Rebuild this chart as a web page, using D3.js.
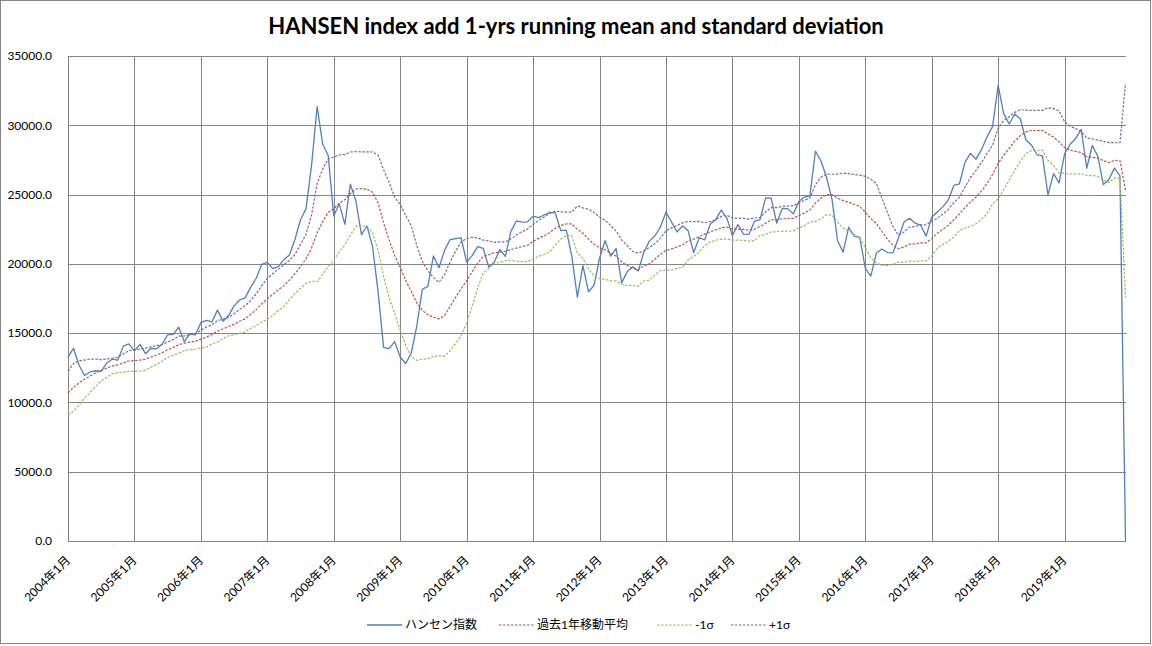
<!DOCTYPE html>
<html>
<head>
<meta charset="utf-8">
<script src="https://cdn.jsdelivr.net/npm/d3@7"></script>
<style>
  body { margin: 0; background: #fff; }
  svg { display: block; }
</style>
</head>
<body>
<div id="chart"></div>
<script>
// Hang Seng monthly close, 2004-01 .. 2019-12 (last month empty -> 0)
const hsi = [
  13289,13907,12682,11943,12198,12286,12238,12850,13120,13055,14060,14230,
  13722,14195,13517,13909,13867,14201,14881,14904,15429,14386,14937,14876,
  15753,15918,15805,16661,15858,16268,16971,17392,17543,18324,18960,19965,
  20106,19652,19801,20319,20634,21773,23185,23984,27142,31353,28644,27813,
  23456,24332,22849,25755,24533,22102,22731,21262,18016,13969,13888,14387,
  13278,12812,13576,15521,18171,18379,20573,19724,20955,21753,21822,21873,
  20122,20609,21239,21109,19765,20129,21030,20536,22358,23096,23008,23035,
  23447,23338,23528,23721,23684,22398,22440,20535,17592,19865,17989,18434,
  20390,21680,20556,21094,18630,19441,19797,19483,20840,21642,22030,22657,
  23730,23020,22300,22737,22392,20803,21884,21731,22860,23206,23881,23306,
  22035,22837,22151,22134,23082,23191,24757,24742,22933,23998,23987,23605,
  24507,24823,24901,28133,27424,26250,24636,21671,20846,22640,21996,21914,
  19683,19112,20777,21067,20815,20794,21891,23023,23297,22935,22790,22001,
  23361,23741,24112,24615,25661,25765,27324,27970,27554,28246,29177,29919,
  32887,30845,30093,30808,30469,28955,28583,27889,27789,24980,26507,25846,
  27942,28633,29051,29699,26901,28543,27778,25725,26092,26907,26346,0
];

// past 1-year running mean
const mean = [
  10682,11081,11418,11687,11913,12139,12314,12476,12633,12705,12850,12988,
  13024,13048,13118,13282,13421,13580,13801,13972,14164,14275,14348,14402,
  14571,14715,14906,15135,15301,15473,15647,15855,16031,16359,16694,17118,
  17481,17792,18125,18430,18828,19287,19805,20354,21154,22240,23047,23701,
  23980,24370,24624,25077,25402,25429,25391,25164,24404,22955,21726,20607,
  19759,18799,18026,17173,16643,16333,16153,16025,16269,16918,17579,18203,
  18773,19423,20062,20527,20660,20806,20844,20912,21029,21141,21240,21336,
  21613,21841,22032,22249,22576,22765,22882,22882,22485,22216,21798,21414,
  21160,21021,20774,20555,20134,19887,19667,19579,19850,19998,20335,20687,
  20965,21077,21222,21359,21672,21786,21960,22147,22316,22446,22600,22654,
  22513,22498,22485,22435,22493,22692,22931,23182,23188,23254,23263,23288,
  23494,23659,23888,24388,24750,25005,24995,24739,24565,24452,24286,24145,
  23743,23267,22924,22335,21784,21329,21101,21213,21417,21442,21508,21515,
  21822,22208,22486,22781,23185,23599,24052,24464,24819,25262,25794,26454,
  27248,27840,28338,28854,29255,29521,29626,29619,29638,29366,29144,28804,
  28392,28208,28121,28029,27731,27697,27630,27450,27308,27469,27455,25301
];

// mean - 1 sigma
const lower = [
  9110,9359,9822,10315,10707,11154,11543,11818,12080,12151,12185,12239,
  12259,12251,12318,12548,12748,12969,13243,13413,13546,13749,13808,13837,
  13932,13989,14224,14366,14605,14813,14890,14995,15074,15353,15547,15803,
  16003,16283,16649,16911,17413,17883,18218,18570,18762,18700,19252,19819,
  20247,20873,21365,22080,22709,22772,22699,22256,20968,19113,17554,16417,
  15217,14109,13304,13037,13121,13159,13302,13379,13330,13712,14250,14830,
  15717,16926,18257,19337,19669,20063,20102,20242,20249,20186,20165,20159,
  20366,20550,20676,20849,21348,21777,22032,22032,20790,20388,19653,19118,
  18936,18887,18777,18759,18540,18441,18442,18382,18771,18811,19194,19535,
  19546,19557,19675,19758,20282,20534,20860,21330,21582,21704,21773,21804,
  21715,21708,21691,21639,21677,22038,22112,22310,22318,22355,22357,22377,
  22610,22729,23021,23068,23255,23537,23525,23004,22573,22393,22119,21885,
  21175,20428,20054,19903,19873,19964,20139,20121,20191,20189,20207,20212,
  20556,21136,21388,21629,21945,22399,22586,22684,22889,23209,23626,24336,
  24697,25349,26053,26777,27379,27958,28176,28161,28206,27463,27083,26570,
  26524,26487,26472,26508,26376,26370,26329,26051,25865,26197,26172,17581
];

// mean + 1 sigma
const upper = [
  12254,12803,13014,13059,13119,13124,13085,13134,13186,13259,13515,13737,
  13789,13845,13918,14016,14094,14191,14359,14531,14782,14801,14888,14967,
  15210,15441,15588,15904,15997,16133,16404,16715,16988,17365,17841,18433,
  18959,19301,19601,19949,20243,20691,21392,22138,23546,25780,26842,27583,
  27713,27867,27883,28074,28095,28086,28083,28072,27840,26797,25898,24797,
  24301,23489,22748,21309,20165,19507,19004,18671,19208,20124,20908,21576,
  21829,21920,21867,21717,21651,21549,21586,21582,21809,22096,22315,22513,
  22860,23132,23388,23649,23804,23753,23732,23732,24180,24044,23943,23710,
  23384,23155,22771,22351,21728,21333,20892,20776,20929,21185,21476,21839,
  22384,22597,22769,22960,23062,23038,23060,22964,23050,23188,23427,23504,
  23311,23288,23279,23231,23309,23346,23750,24054,24058,24153,24169,24199,
  24378,24589,24755,25708,26245,26473,26465,26474,26557,26511,26453,26405,
  26311,26106,25794,24767,23695,22694,22063,22305,22643,22695,22809,22818,
  23088,23280,23584,23933,24425,24799,25518,26244,26749,27315,27962,28572,
  29799,30331,30623,30931,31131,31084,31076,31077,31070,31269,31205,31038,
  30260,29929,29770,29550,29086,29024,28931,28849,28751,28741,28738,33021
];

const years = [2004,2005,2006,2007,2008,2009,2010,2011,2012,2013,2014,2015,2016,2017,2018,2019];
const yTicks = [0,5000,10000,15000,20000,25000,30000,35000];

const series = [
  { name: "ハンセン指数", values: hsi, color: "#4F81BD", width: 1.3, dash: null },
  { name: "過去1年移動平均", values: mean, color: "#C0504D", width: 1.2, dash: "2.5,1.5" },
  { name: "-1σ", values: lower, color: "#9BBB59", width: 1.2, dash: "2.5,1.5" },
  { name: "+1σ", values: upper, color: "#8064A2", width: 1.2, dash: "2.5,1.5" },
];

const width = 1152;
const height = 646;
const plot = { left: 68, right: 1125.5, top: 56, bottom: 541 };
const font = "Lato, 'Noto Sans CJK JP', sans-serif";
const gridColor = "#868686";

const idx = d3.range(hsi.length);
const x = d3.scalePoint().domain(idx).range([plot.left, plot.right]);
const y = d3.scaleLinear().domain([0, 35000]).range([plot.bottom, plot.top]);

const svg = d3.select("#chart").append("svg")
  .attr("width", width)
  .attr("height", height)
  .style("font-family", font);

svg.append("rect")
  .attr("x", 0.5).attr("y", 0.5)
  .attr("width", width - 2).attr("height", height - 3)
  .attr("fill", "#fff")
  .attr("stroke", gridColor);

// horizontal gridlines + y labels
const yAxis = d3.axisLeft(y)
  .tickValues(yTicks)
  .tickSize(-(plot.right - plot.left))
  .tickPadding(16)
  .tickFormat(d3.format(".1f"));

svg.append("g")
  .attr("transform", `translate(${plot.left},0)`)
  .call(yAxis)
  .call(g => g.select(".domain").remove())
  .call(g => g.selectAll(".tick line").attr("stroke", gridColor).attr("shape-rendering", "crispEdges"))
  .call(g => g.selectAll(".tick text")
    .attr("font-family", font)
    .attr("font-size", 12)
    .attr("fill", "#000"));

// vertical gridlines every January + rotated labels
const janIdx = years.map((yr, i) => i * 12);
svg.append("g")
  .selectAll("line")
  .data(janIdx)
  .join("line")
  .attr("x1", d => Math.round(x(d)) + 0.5)
  .attr("x2", d => Math.round(x(d)) + 0.5)
  .attr("y1", plot.top)
  .attr("y2", plot.bottom)
  .attr("stroke", gridColor);

svg.append("g")
  .selectAll("text")
  .data(years)
  .join("text")
  .attr("transform", (d, i) => `translate(${x(i * 12) + 3},561) rotate(-45)`)
  .attr("text-anchor", "end")
  .attr("font-size", 12)
  .attr("fill", "#000")
  .text(d => `${d}年1月`);

// lines
const line = vals => d3.line()
  .x((d, i) => x(i))
  .y(d => y(d))(vals);

svg.append("g")
  .selectAll("path")
  .data(series)
  .join("path")
  .attr("d", s => line(s.values))
  .attr("fill", "none")
  .attr("stroke", s => s.color)
  .attr("stroke-width", s => s.width)
  .attr("stroke-dasharray", s => s.dash)
  .attr("stroke-linejoin", "round");

// title
svg.append("text")
  .attr("x", 576)
  .attr("y", 34)
  .attr("text-anchor", "middle")
  .attr("font-size", 22)
  .attr("font-weight", "bold")
  .attr("fill", "#000")
  .text("HANSEN index add 1-yrs running mean and standard deviation");

// legend
const legendX = [367, 499, 657, 731];
const legend = svg.append("g")
  .selectAll("g")
  .data(series)
  .join("g")
  .attr("transform", (d, i) => `translate(${legendX[i]},625)`);

legend.append("line")
  .attr("x1", 0).attr("x2", 35)
  .attr("stroke", d => d.color)
  .attr("stroke-width", d => d.width)
  .attr("stroke-dasharray", d => d.dash);

legend.append("text")
  .attr("x", 38)
  .attr("dy", "0.36em")
  .attr("font-size", 12)
  .attr("fill", "#000")
  .text(d => d.name);
</script>
</body>
</html>
